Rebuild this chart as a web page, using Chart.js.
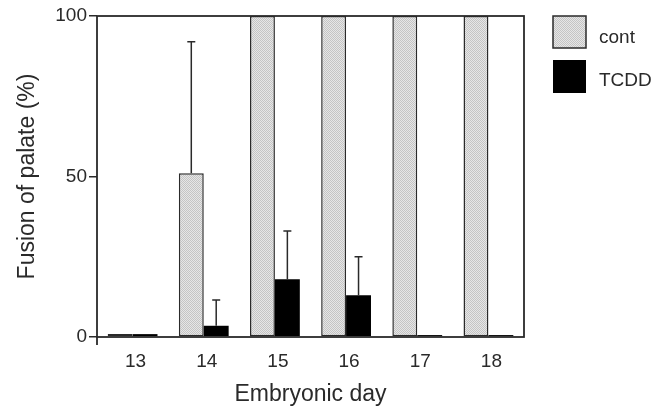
<!DOCTYPE html>
<html>
<head>
<meta charset="utf-8">
<script src="https://cdn.jsdelivr.net/npm/chart.js@4.4.1/dist/chart.umd.min.js"></script>
<style>
  html, body { margin: 0; padding: 0; background: #fff; }
  #wrap { width: 663px; height: 408px; }
</style>
</head>
<body>
<div id="wrap"><canvas id="fusion_chart"></canvas></div>
<script>
const days = ['13', '14', '15', '16', '17', '18'];
const contValues = [0.9, 51, 100, 100, 100, 100];
const contErrors = [0, 41, 0, 0, 0, 0];
const tcddValues = [0.9, 3.5, 18, 13, 0.6, 0.6];
const tcddErrors = [0, 8, 15, 12, 0, 0];
const yTicks = [0, 50, 100];

const FONT = "'Liberation Sans', Arial, sans-serif";
const INK = '#2a2a2a';

// dotted light grey fill like the original print
function dotPattern() {
  const c = document.createElement('canvas');
  c.width = 2; c.height = 2;
  const g = c.getContext('2d');
  g.fillStyle = '#e6e6e6';
  g.fillRect(0, 0, 2, 2);
  g.fillStyle = '#c4c4c4';
  g.fillRect(0, 0, 1, 1);
  g.fillRect(1, 1, 1, 1);
  return g.createPattern(c, 'repeat');
}
const grey = dotPattern();

const errorBars = {
  id: 'errorBars',
  afterDatasetsDraw(chart) {
    const ctx = chart.ctx;
    const y = chart.scales.y;
    ctx.save();
    ctx.strokeStyle = INK;
    ctx.lineWidth = 1.5;
    chart.data.datasets.forEach((ds, i) => {
      const meta = chart.getDatasetMeta(i);
      meta.data.forEach((bar, j) => {
        const err = ds.errors[j];
        if (!err) return;
        const top = y.getPixelForValue(ds.data[j] + err);
        ctx.beginPath();
        ctx.moveTo(bar.x, bar.y);
        ctx.lineTo(bar.x, top);
        ctx.moveTo(bar.x - 4, top);
        ctx.lineTo(bar.x + 4, top);
        ctx.stroke();
      });
    });
    ctx.restore();
  }
};

const frame = {
  id: 'frame',
  afterDatasetsDraw(chart) {
    const {left, right, top, bottom} = chart.chartArea;
    const ctx = chart.ctx;
    ctx.save();
    ctx.strokeStyle = INK;
    ctx.lineWidth = 1.8;
    ctx.strokeRect(left, top, right - left, bottom - top);
    ctx.beginPath();
    ctx.moveTo(left, bottom);
    ctx.lineTo(left, bottom + 8);
    ctx.stroke();
    ctx.restore();
  }
};

const legendBoxes = {
  id: 'legendBoxes',
  afterDraw(chart) {
    const ctx = chart.ctx;
    ctx.save();
    ctx.fillStyle = grey;
    ctx.fillRect(553, 16, 33, 32);
    ctx.strokeStyle = INK;
    ctx.lineWidth = 1.5;
    ctx.strokeRect(553, 16, 33, 32);
    ctx.fillStyle = '#000';
    ctx.fillRect(553, 60, 33, 33);
    ctx.fillStyle = INK;
    ctx.font = '19px ' + FONT;
    ctx.textBaseline = 'alphabetic';
    ctx.fillText(chart.data.datasets[0].label, 599, 43);
    ctx.fillText(chart.data.datasets[1].label, 599, 86);
    ctx.restore();
  }
};

new Chart(document.getElementById('fusion_chart'), {
  type: 'bar',
  data: {
    labels: days,
    datasets: [{
      label: 'cont',
      data: contValues,
      errors: contErrors,
      backgroundColor: grey,
      borderColor: INK,
      borderWidth: 1.5,
      borderSkipped: false
    }, {
      label: 'TCDD',
      data: tcddValues,
      errors: tcddErrors,
      backgroundColor: '#000',
      borderColor: '#000',
      borderWidth: 0
    }]
  },
  options: {
    responsive: true,
    maintainAspectRatio: false,
    animation: false,
    events: [],
    layout: { padding: { top: 16, right: 139, left: 0, bottom: 0 } },
    datasets: { bar: { categoryPercentage: 0.7, barPercentage: 1.0 } },
    plugins: {
      legend: { display: false },
      tooltip: { enabled: false }
    },
    scales: {
      x: {
        grid: { display: false, drawTicks: false },
        border: { display: false },
        ticks: { color: INK, font: { family: FONT, size: 19 }, padding: 13, labelOffset: 3 },
        title: {
          display: true, text: 'Embryonic day', color: INK,
          font: { family: FONT, size: 23 }, padding: { top: 0, bottom: 0 }
        },
        afterFit(scale) { scale.height = 71; }
      },
      y: {
        min: 0, max: 100,
        afterBuildTicks(scale) { scale.ticks = yTicks.map(v => ({ value: v })); },
        grid: { drawOnChartArea: false, color: INK, lineWidth: 1.5, tickLength: 8 },
        border: { display: false },
        ticks: { color: INK, font: { family: FONT, size: 19 }, padding: 2 },
        title: {
          display: true, text: 'Fusion of palate (%)', color: INK,
          font: { family: FONT, size: 23 }, padding: { top: 14, bottom: 0 }
        },
        afterFit(scale) { scale.width = 97; }
      }
    }
  },
  plugins: [errorBars, frame, legendBoxes]
});
</script>
</body>
</html>
